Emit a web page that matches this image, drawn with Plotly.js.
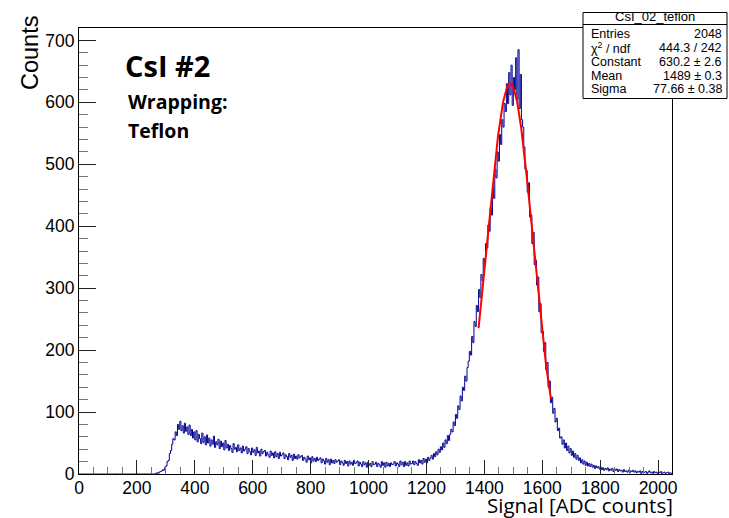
<!DOCTYPE html>
<html>
<head>
<meta charset="utf-8">
<script src="https://cdn.plot.ly/plotly-3.0.1.min.js"></script>
<style>html,body{margin:0;padding:0;background:#fff;}#chart{width:729px;height:518px;}</style>
</head>
<body>
<div id="chart"></div>
<script>
// Histogram: bins of 4 ADC counts from 0 to 2048 (lower edges = 4*i)
const binWidth = 4;
const countsBelow256 = [
  0,0,0,0,0,0,0,0,0,0,0,0,0,0,0,0, 0,0,0,0,0,0,0,0,0,0,0,0,0,0,0,0,
  0,0,0,0,0,0,0,0,0,0,0,0,0,0,0,0, 0,0,0,0,0,0,0,0,0,0,0,0,0,0,0,0
];
const countsFrom256 = [
  0,0,1,2,1,3,4,5,7,6,11,13,20,22,33,38,
  48,57,55,68,62,80,72,85,70,78,66,82,69,76,64,79,
  62,72,58,68,55,70,52,64,57,49,66,51,60,47,63,50,
  58,45,55,48,61,43,52,47,56,41,53,44,50,39,54,42,
  48,38,46,41,35,49,40,43,36,47,38,42,34,45,37,40,
  44,33,41,36,31,42,35,39,30,43,34,37,29,40,33,36,
  38,29,35,31,27,37,30,34,26,36,28,33,25,35,29,31,
  34,25,31,28,23,33,27,30,22,32,25,29,24,31,26,28,
  30,22,27,24,19,29,23,26,18,28,21,25,20,27,22,24,
  26,18,24,21,16,25,19,23,15,24,18,22,17,23,19,21,
  23,15,21,18,14,22,17,20,13,21,16,19,14,22,17,18,
  21,13,19,16,12,20,15,18,11,19,14,17,12,20,15,16,
  19,12,17,15,11,20,14,18,11,19,13,17,12,18,15,16,
  20,13,18,16,12,21,15,19,12,20,14,18,13,21,16,17,
  21,15,20,17,14,23,18,22,16,25,19,24,18,27,22,26,
  30,24,33,28,36,31,40,35,44,39,50,43,55,49,62,54,
  64,72,68,84,78,96,90,110,104,126,118,140,135,158,150,172,
  182,198,192,222,212,246,238,272,262,298,285,322,312,348,338,372,
  365,402,392,430,418,462,445,492,478,520,505,548,532,572,560,598,
  585,630,598,648,612,660,595,640,620,672,605,685,590,645,572,560,
  528,492,490,455,470,415,418,372,390,338,345,305,318,262,275,228,
  230,198,212,168,180,140,150,115,124,98,106,84,90,70,74,58,
  60,48,55,42,50,38,45,34,41,30,37,27,33,24,30,22,
  26,18,23,16,21,14,19,13,17,12,16,11,14,9,13,10,
  12,8,11,7,10,6,9,7,10,5,8,6,9,4,8,6,
  8,4,7,5,6,3,7,4,5,3,6,2,5,4,6,3,
  5,2,4,3,5,1,4,2,3,4,1,3,5,2,3,1,
  4,2,3,1,3,2,4,1,2,3,1,2,3,1,2,1
];
const counts = countsBelow256.concat(countsFrom256);

// Gaussian fit parameters (from stats box)
const fitConstant = 630.2;
const fitMean = 1489;
const fitSigma = 77.66;
const fitRange = [1380, 1630];

const statsTitle = "CsI_02_teflon";
const statsLabels = ["Entries", "χ<sup>2</sup> / ndf", "Constant", "Mean", "Sigma"];
const statsValues = ["2048", "444.3 / 242", "630.2 ± 2.6", "1489 ± 0.3", "77.66 ± 0.38"];

// step-line arrays from bin edges
const hx = [], hy = [];
counts.forEach((c, i) => { hx.push(i * binWidth); hy.push(c); });
hx.push(counts.length * binWidth); hy.push(counts[counts.length - 1]);

const fx = [], fy = [];
for (let x = fitRange[0]; x <= fitRange[1]; x += 2) {
  fx.push(x);
  fy.push(fitConstant * Math.exp(-0.5 * Math.pow((x - fitMean) / fitSigma, 2)));
}

const traces = [
  {x: hx, y: hy, type: 'scatter', mode: 'lines', line: {shape: 'hv', color: '#000090', width: 1}, hoverinfo: 'skip'},
  {x: fx, y: fy, type: 'scatter', mode: 'lines', line: {color: '#ff0000', width: 2}, hoverinfo: 'skip'}
];

// geometry helpers (plot area: px 79..672, py 28..474)
const L = 79, R = 672, T = 28, B = 474;
const px = v => (v - L) / (R - L);
const py = v => (B - v) / (B - T);

const tickFont = {family: 'Liberation Sans, Arial, sans-serif', size: 17.5, color: '#000'};
const annotations = [
  {text: 'Counts', x: px(30), y: py(53), xref: 'paper', yref: 'paper', textangle: -90, showarrow: false,
   xanchor: 'center', yanchor: 'middle', font: {family: 'Liberation Sans, Arial, sans-serif', size: 23.5, color: '#000'}},
  {text: 'Signal [ADC counts]', x: px(675), y: py(505), xref: 'paper', yref: 'paper', showarrow: false,
   xanchor: 'right', yanchor: 'middle', font: {family: 'Open Sans, sans-serif', size: 20.5, color: '#000'}},
  {text: '<b>CsI #2</b>', x: px(123), y: py(65), xref: 'paper', yref: 'paper', showarrow: false,
   xanchor: 'left', yanchor: 'middle', font: {family: 'Open Sans, sans-serif', size: 29, color: '#000'}},
  {text: '<b>Wrapping:</b>', x: px(126), y: py(101), xref: 'paper', yref: 'paper', showarrow: false,
   xanchor: 'left', yanchor: 'middle', font: {family: 'Open Sans, sans-serif', size: 19.5, color: '#000'}},
  {text: '<b>Teflon</b>', x: px(126), y: py(130), xref: 'paper', yref: 'paper', showarrow: false,
   xanchor: 'left', yanchor: 'middle', font: {family: 'Open Sans, sans-serif', size: 19.5, color: '#000'}},
  {text: statsTitle, x: px(655), y: py(16.5), xref: 'paper', yref: 'paper', showarrow: false,
   xanchor: 'center', yanchor: 'middle', font: {family: 'Liberation Sans, Arial, sans-serif', size: 13, color: '#000'}}
];
const rowY = [34, 48, 62, 76, 89];
statsLabels.forEach((lab, i) => {
  annotations.push({text: lab, x: px(589), y: py(rowY[i]), xref: 'paper', yref: 'paper', showarrow: false,
    xanchor: 'left', yanchor: 'middle', font: {family: 'Liberation Sans, Arial, sans-serif', size: 12.5, color: '#000'}});
  annotations.push({text: statsValues[i], x: px(724), y: py(rowY[i]), xref: 'paper', yref: 'paper', showarrow: false,
    xanchor: 'right', yanchor: 'middle', font: {family: 'Liberation Sans, Arial, sans-serif', size: 12.5, color: '#000'}});
});

const layout = {
  width: 729, height: 518,
  margin: {l: L, r: 729 - R, t: T, b: 518 - B, pad: 0},
  paper_bgcolor: '#fff', plot_bgcolor: '#fff',
  showlegend: false,
  xaxis: {
    range: [0, 2048], tickmode: 'linear', tick0: 0, dtick: 200,
    ticks: 'inside', ticklen: 14, tickwidth: 1, tickcolor: '#222',
    minor: {ticks: 'inside', ticklen: 7, dtick: 50, tickcolor: '#777', tickwidth: 1},
    showline: true, mirror: true, linecolor: '#000', linewidth: 1,
    showgrid: false, zeroline: false, tickfont: tickFont, fixedrange: true,
    ticklabelstandoff: -2
  },
  yaxis: {
    range: [0, 720], tickmode: 'linear', tick0: 0, dtick: 100,
    ticks: 'inside', ticklen: 17, tickwidth: 1, tickcolor: '#222',
    minor: {ticks: 'inside', ticklen: 9, dtick: 20, tickcolor: '#777', tickwidth: 1},
    showline: true, mirror: true, linecolor: '#000', linewidth: 1,
    showgrid: false, zeroline: false, tickfont: tickFont, fixedrange: true
  },
  shapes: [
    {type: 'rect', xref: 'paper', yref: 'paper', x0: px(583), x1: px(727), y0: py(98.5), y1: py(12.5),
     line: {color: '#000', width: 1}, fillcolor: '#fff', layer: 'above'},
    {type: 'line', xref: 'paper', yref: 'paper', x0: px(583), x1: px(727), y0: py(24.5), y1: py(24.5),
     line: {color: '#000', width: 1}, layer: 'above'}
  ],
  annotations: annotations
};

Plotly.newPlot('chart', traces, layout, {displayModeBar: false, staticPlot: true});
</script>
</body>
</html>
